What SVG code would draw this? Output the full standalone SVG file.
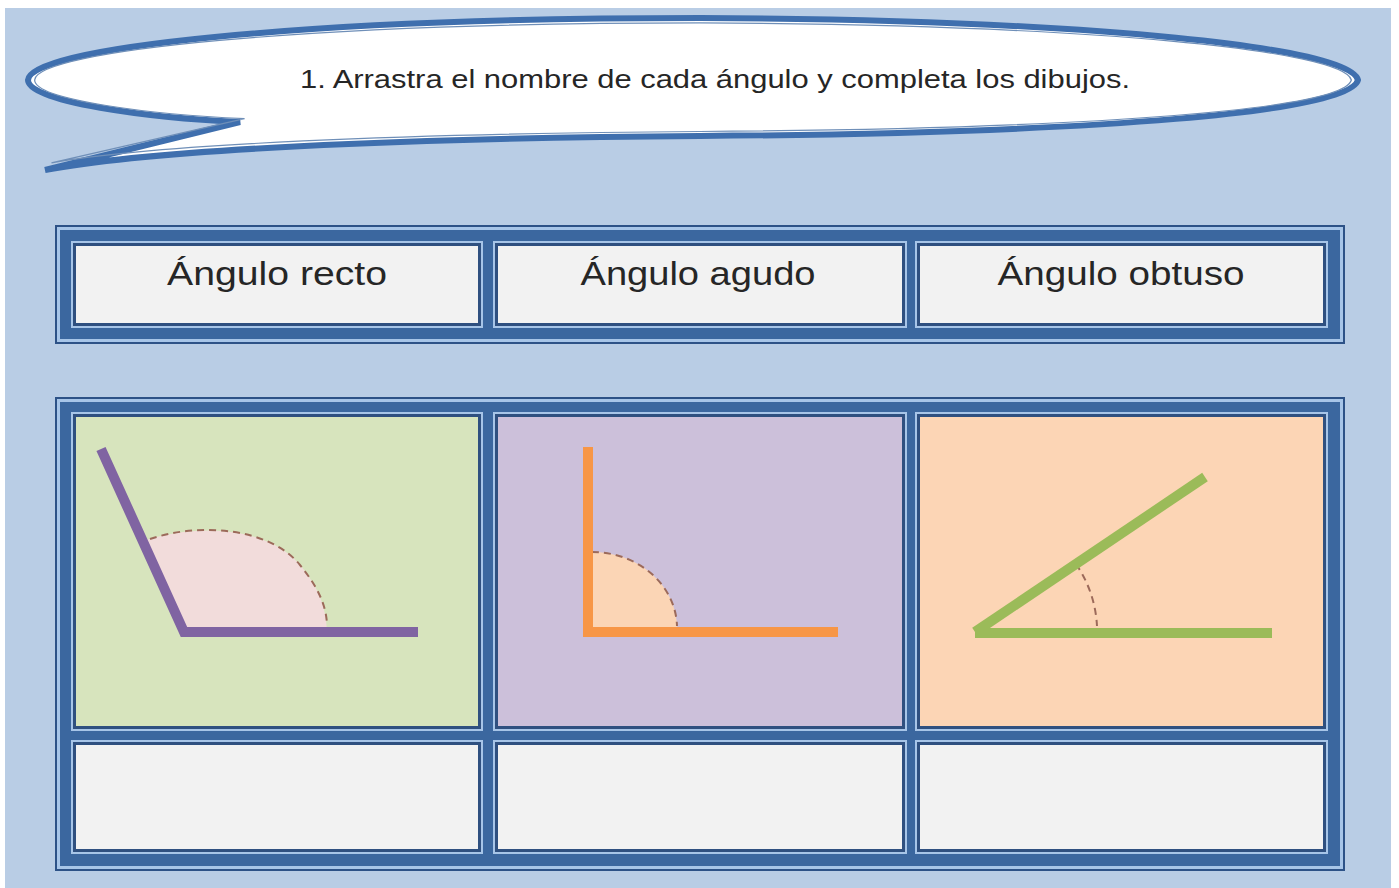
<svg xmlns="http://www.w3.org/2000/svg" width="1399" height="888" viewBox="0 0 1399 888">
  <defs>
    <style>
      .outer { fill: #2d5287; }
      .light { fill: #a7c5e8; }
      .band { fill: #3b679f; }
      .thin { fill: #2f5080; }
      .empty { fill: #f2f2f2; }
      .lbl { font-family: "Liberation Sans", Arial, sans-serif; fill: #262626; text-anchor: middle; }
      .dash { fill: none; stroke: #9c6a5a; stroke-width: 2; stroke-dasharray: 7 5; }
    </style>
  </defs>
  <rect x="0" y="0" width="1399" height="888" fill="#ffffff"/>
  <rect x="5" y="8" width="1386" height="880" fill="#b9cde5"/>

  <g id="bubble">
    <path d="M 240 122 L 45 170 C 150 150, 400 138, 700 136 C 1100 133, 1350 112, 1358 80 C 1350 48, 1100 20, 700 18 C 300 18, 30 48, 28 80 C 28 102, 150 118, 240 122 Z" fill="#ffffff" stroke="#3f6fae" stroke-width="6" stroke-linejoin="miter"/>
    <path d="M 240 122 L 45 170 C 150 150, 400 138, 700 136 C 1100 133, 1350 112, 1358 80 C 1350 48, 1100 20, 700 18 C 300 18, 30 48, 28 80 C 28 102, 150 118, 240 122 Z" fill="none" stroke="#6f8fb8" stroke-width="1.3" transform="translate(693 80) scale(0.99 0.92) translate(-693 -80)"/>
    <text class="lbl" x="715" y="88" font-size="26" textLength="830" lengthAdjust="spacingAndGlyphs">1.  Arrastra el nombre de cada ángulo y completa los dibujos.</text>
  </g>

  <g id="header-table">
    <rect class="outer" x="55" y="225" width="1290" height="119"/>
    <rect class="light" x="57" y="227" width="1286" height="115"/>
    <rect class="band" x="60" y="230" width="1280" height="109"/>
    <g id="h1">
      <rect class="light" x="71" y="241" width="412" height="87"/>
      <rect class="thin" x="73" y="243" width="408" height="83"/>
      <rect class="empty" x="76" y="246" width="402" height="77"/>
      <text class="lbl" x="277" y="285" font-size="34" textLength="220" lengthAdjust="spacingAndGlyphs">Ángulo recto</text>
    </g>
    <g id="h2">
      <rect class="light" x="493" y="241" width="414" height="87"/>
      <rect class="thin" x="495" y="243" width="410" height="83"/>
      <rect class="empty" x="498" y="246" width="404" height="77"/>
      <text class="lbl" x="698" y="285" font-size="34" textLength="235" lengthAdjust="spacingAndGlyphs">Ángulo agudo</text>
    </g>
    <g id="h3">
      <rect class="light" x="915" y="241" width="413" height="87"/>
      <rect class="thin" x="917" y="243" width="409" height="83"/>
      <rect class="empty" x="920" y="246" width="403" height="77"/>
      <text class="lbl" x="1121" y="285" font-size="34" textLength="247" lengthAdjust="spacingAndGlyphs">Ángulo obtuso</text>
    </g>
  </g>

  <g id="main-table">
    <rect class="outer" x="55" y="397" width="1290" height="474"/>
    <rect class="light" x="57" y="399" width="1286" height="470"/>
    <rect class="band" x="60" y="402" width="1280" height="464"/>

    <g id="c1">
      <rect class="light" x="71" y="412" width="412" height="319"/>
      <rect class="thin" x="73" y="414" width="408" height="315"/>
      <rect x="76" y="417" width="402" height="309" fill="#d7e4bd"/>
      <path d="M 184 632 L 143 541 C 200 522, 270 528, 300 565 C 318 587, 326 605, 327 632 Z" fill="#f2dcdb"/>
      <path class="dash" d="M 150 539 C 200 522, 270 528, 300 565 C 318 587, 326 605, 327 624"/>
      <polyline points="101,449 184,632 418,632" fill="none" stroke="#8064a2" stroke-width="10" stroke-linejoin="miter"/>
    </g>
    <g id="c2">
      <rect class="light" x="493" y="412" width="414" height="319"/>
      <rect class="thin" x="495" y="414" width="410" height="315"/>
      <rect x="498" y="417" width="404" height="309" fill="#ccc0da"/>
      <path d="M 592 628 L 592 552 A 85 76 0 0 1 677 628 Z" fill="#fbd5b5"/>
      <path class="dash" d="M 592 552 A 85 76 0 0 1 677 626"/>
      <polyline points="588,447 588,632 838,632" fill="none" stroke="#f79646" stroke-width="10" stroke-linejoin="miter"/>
    </g>
    <g id="c3">
      <rect class="light" x="915" y="412" width="413" height="319"/>
      <rect class="thin" x="917" y="414" width="409" height="315"/>
      <rect x="920" y="417" width="403" height="309" fill="#fcd5b5"/>
      <path class="dash" d="M 1076 564 A 120 120 0 0 1 1097 626"/>
      <line x1="1205" y1="477" x2="975" y2="632" stroke="#9bbb59" stroke-width="10"/>
      <line x1="975" y1="633" x2="1272" y2="633" stroke="#9bbb59" stroke-width="10"/>
    </g>

    <g id="a1">
      <rect class="light" x="71" y="740" width="412" height="114"/>
      <rect class="thin" x="73" y="742" width="408" height="110"/>
      <rect class="empty" x="76" y="745" width="402" height="104"/>
    </g>
    <g id="a2">
      <rect class="light" x="493" y="740" width="414" height="114"/>
      <rect class="thin" x="495" y="742" width="410" height="110"/>
      <rect class="empty" x="498" y="745" width="404" height="104"/>
    </g>
    <g id="a3">
      <rect class="light" x="915" y="740" width="413" height="114"/>
      <rect class="thin" x="917" y="742" width="409" height="110"/>
      <rect class="empty" x="920" y="745" width="403" height="104"/>
    </g>
  </g>
</svg>
